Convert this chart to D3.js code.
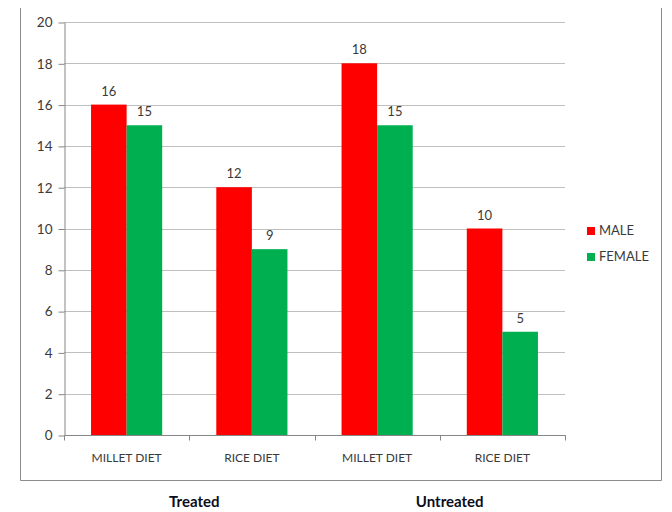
<!DOCTYPE html>
<html>
<head>
<meta charset="utf-8">
<script src="https://cdn.jsdelivr.net/npm/d3@7"></script>
<style>
  body { margin: 0; background: #fff; }
  text { font-family: Lato, "Open Sans", sans-serif; }
</style>
</head>
<body>
<svg id="chart" width="672" height="512"></svg>
<script>
const categories = ["MILLET DIET", "RICE DIET", "MILLET DIET", "RICE DIET"];
const male = [16, 12, 18, 10];
const female = [15, 9, 15, 5];
const seriesNames = ["MALE", "FEMALE"];
const groupLabels = ["Treated", "Untreated"];
const yTicks = [0, 2, 4, 6, 8, 10, 12, 14, 16, 18, 20];

const colours = ["#ff0000", "#00b050"];
const svg = d3.select("#chart");

// outer chart border (top edge is cut off in the reference)
svg.append("path")
    .attr("d", "M20.5,8 V480.5 H661.5 V8")
    .attr("fill", "none")
    .attr("stroke", "#8c8c8c")
    .attr("stroke-width", 1);

const plotLeft = 64, plotRight = 565, plotTop = 22, plotBottom = 435;

const x = d3.scaleBand()
    .domain(d3.range(categories.length))
    .range([plotLeft, plotRight]);

const xInner = d3.scaleBand()
    .domain(seriesNames)
    .range([0, x.bandwidth()])
    .paddingOuter(0.76)
    .paddingInner(0);

const y = d3.scaleLinear().domain([0, 20]).range([plotBottom, plotTop]);

// gridlines
svg.append("g")
    .selectAll("line")
    .data(yTicks.filter(d => d > 0))
    .enter()
    .append("line")
    .attr("x1", plotLeft)
    .attr("x2", plotRight)
    .attr("y1", d => Math.round(y(d)) + 0.5)
    .attr("y2", d => Math.round(y(d)) + 0.5)
    .attr("stroke", "#bfbfbf");

// y axis
const yAxis = svg.append("g")
    .attr("transform", "translate(" + (plotLeft + 0.5) + ",0.5)")
    .call(d3.axisLeft(y).tickValues(yTicks).tickSize(6).tickSizeOuter(0));
yAxis.select(".domain").attr("stroke", "#868686");
yAxis.selectAll(".tick line").attr("stroke", "#868686");
yAxis.selectAll(".tick text")
    .attr("x", -12)
    .attr("fill", "#3a3a3a")
    .style("font-size", "13.5px");

// bars
const rows = categories.map((c, i) => ({i: i, vals: [male[i], female[i]]}));
const groups = svg.append("g")
    .selectAll("g")
    .data(rows)
    .enter()
    .append("g")
    .attr("transform", d => "translate(" + x(d.i) + ",0)");

groups.selectAll("rect")
    .data(d => d.vals.map((v, k) => ({name: seriesNames[k], v: v, k: k})))
    .enter()
    .append("rect")
    .attr("x", d => xInner(d.name))
    .attr("width", xInner.bandwidth())
    .attr("y", d => y(d.v))
    .attr("height", d => y(0) - y(d.v))
    .attr("fill", d => colours[d.k]);

groups.selectAll("text")
    .data(d => d.vals.map((v, k) => ({name: seriesNames[k], v: v})))
    .enter()
    .append("text")
    .attr("x", d => xInner(d.name) + xInner.bandwidth() / 2)
    .attr("y", d => y(d.v) - 9)
    .attr("text-anchor", "middle")
    .attr("fill", "#3a3a3a")
    .style("font-size", "13px")
    .text(d => d.v);

// x axis
const xAxis = svg.append("g")
    .attr("transform", "translate(0," + (plotBottom + 0.5) + ")")
    .call(d3.axisBottom(x).tickSize(0).tickFormat(i => categories[i]));
xAxis.select(".domain").attr("stroke", "#868686").attr("d", "M" + (plotLeft + 0.5) + ",0H" + (plotRight + 0.5) + "V4");
xAxis.selectAll(".tick text")
    .attr("y", 18)
    .attr("fill", "#3a3a3a")
    .style("font-size", "12px");
// category boundary ticks
xAxis.append("g")
    .selectAll("line")
    .data(d3.range(categories.length + 1))
    .enter()
    .append("line")
    .attr("x1", i => Math.round(plotLeft + i * x.step()) + 0.5)
    .attr("x2", i => Math.round(plotLeft + i * x.step()) + 0.5)
    .attr("y1", 0)
    .attr("y2", 5)
    .attr("stroke", "#868686");

// legend
const legend = svg.append("g")
    .selectAll("g")
    .data(seriesNames)
    .enter()
    .append("g")
    .attr("transform", (d, i) => "translate(587," + (227 + i * 26) + ")");
legend.append("rect")
    .attr("width", 8)
    .attr("height", 8)
    .attr("fill", (d, i) => colours[i]);
legend.append("text")
    .attr("x", 12)
    .attr("y", 8)
    .attr("fill", "#3a3a3a")
    .style("font-size", "13px")
    .text(d => d);

// treated / untreated labels under the chart
svg.append("g")
    .selectAll("text")
    .data(groupLabels)
    .enter()
    .append("text")
    .attr("x", (d, i) => (x(i * 2) + x(i * 2 + 1) + x.bandwidth()) / 2 + [5, 10][i])
    .attr("y", 507)
    .attr("text-anchor", "middle")
    .attr("fill", "#0d0d1a")
    .style("font-size", "15px")
    .style("font-weight", "bold")
    .text(d => d);
</script>
</body>
</html>
